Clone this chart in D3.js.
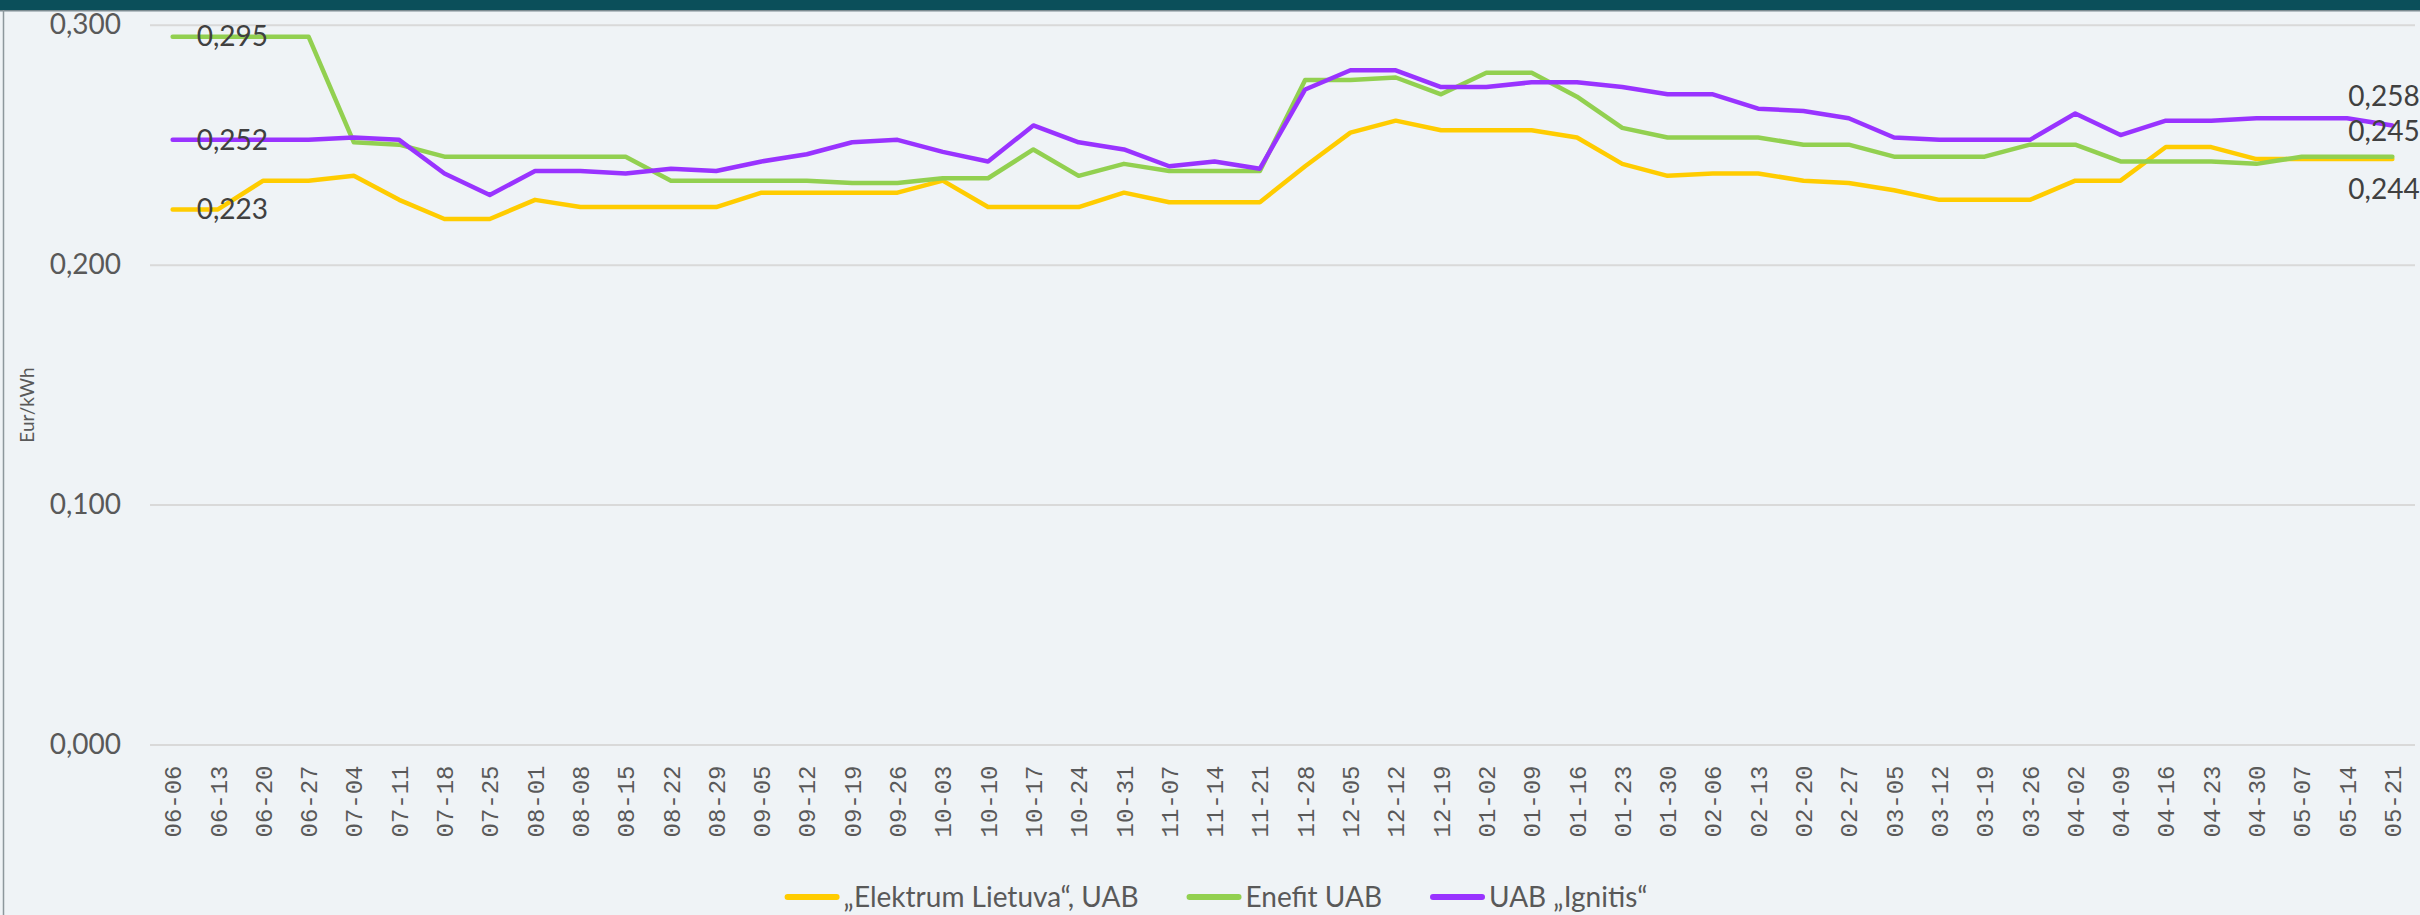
<!DOCTYPE html>
<html>
<head>
<meta charset="utf-8">
<script src="https://cdn.jsdelivr.net/npm/d3@7"></script>
<style>
    html, body { margin: 0; padding: 0; background: #eff3f6; overflow: hidden; }
    svg { display: block; }
</style>
</head>
<body>
<div id="chartContainer"></div>
<script>
var categories = ["06-06", "06-13", "06-20", "06-27", "07-04", "07-11", "07-18", "07-25",
    "08-01", "08-08", "08-15", "08-22", "08-29", "09-05", "09-12", "09-19", "09-26",
    "10-03", "10-10", "10-17", "10-24", "10-31", "11-07", "11-14", "11-21", "11-28",
    "12-05", "12-12", "12-19", "01-02", "01-09", "01-16", "01-23", "01-30", "02-06",
    "02-13", "02-20", "02-27", "03-05", "03-12", "03-19", "03-26", "04-02", "04-09",
    "04-16", "04-23", "04-30", "05-07", "05-14", "05-21"];

var elektrum = [0.223, 0.223, 0.235, 0.235, 0.237, 0.227, 0.219, 0.219, 0.227, 0.224,
    0.224, 0.224, 0.224, 0.230, 0.230, 0.230, 0.230, 0.235, 0.224, 0.224,
    0.224, 0.230, 0.226, 0.226, 0.226, 0.241, 0.255, 0.260, 0.256, 0.256,
    0.256, 0.253, 0.242, 0.237, 0.238, 0.238, 0.235, 0.234, 0.231, 0.227,
    0.227, 0.227, 0.235, 0.235, 0.249, 0.249, 0.244, 0.244, 0.244, 0.244];

var enefit = [0.295, 0.295, 0.295, 0.295, 0.251, 0.250, 0.245, 0.245, 0.245, 0.245,
    0.245, 0.235, 0.235, 0.235, 0.235, 0.234, 0.234, 0.236, 0.236, 0.248,
    0.237, 0.242, 0.239, 0.239, 0.239, 0.277, 0.277, 0.278, 0.271, 0.280,
    0.280, 0.270, 0.257, 0.253, 0.253, 0.253, 0.250, 0.250, 0.245, 0.245,
    0.245, 0.250, 0.250, 0.243, 0.243, 0.243, 0.242, 0.245, 0.245, 0.245];

var ignitis = [0.252, 0.252, 0.252, 0.252, 0.253, 0.252, 0.238, 0.229, 0.239, 0.239,
    0.238, 0.240, 0.239, 0.243, 0.246, 0.251, 0.252, 0.247, 0.243, 0.258,
    0.251, 0.248, 0.241, 0.243, 0.240, 0.273, 0.281, 0.281, 0.274, 0.274,
    0.276, 0.276, 0.274, 0.271, 0.271, 0.265, 0.264, 0.261, 0.253, 0.252,
    0.252, 0.252, 0.263, 0.254, 0.260, 0.260, 0.261, 0.261, 0.261, 0.258];

var seriesNames = ["\u201EElektrum Lietuva\u201C, UAB", "Enefit UAB", "UAB \u201EIgnitis\u201C"];
var strokes = ["#ffcc00", "#92d050", "#9933ff"];
var yTicks = [0, 0.1, 0.2, 0.3];
var yTitle = "Eur/kWh";

var width = 2420, height = 915;
var plot = { left: 150, right: 2415, top: 24.7, bottom: 744.5 };

var locale = d3.formatLocale({ decimal: ",", thousands: " ", grouping: [3], currency: ["", " €"] });
var fmt = locale.format(".3f");

var svg = d3.select("#chartContainer")
    .append("svg")
    .attr("width", width)
    .attr("height", height)
    .style("font-family", "Lato, 'Open Sans', sans-serif");

svg.append("rect")
    .attr("width", width)
    .attr("height", height)
    .attr("fill", "#eff3f6");

// header strip + left border
svg.append("rect")
    .attr("width", width)
    .attr("height", 10)
    .attr("fill", "#0b4f5a");
svg.append("line")
    .attr("x1", 0).attr("x2", width)
    .attr("y1", 10.75).attr("y2", 10.75)
    .style("stroke", "#7c8b91")
    .style("stroke-width", 1.5);
svg.append("line")
    .attr("x1", 3.5).attr("x2", 3.5)
    .attr("y1", 10).attr("y2", height)
    .style("stroke", "#8d979c")
    .style("stroke-width", 1.5);

var x = d3.scaleBand().domain(categories).range([plot.left, plot.right]);
var y = d3.scaleLinear().domain([0, 0.3]).range([plot.bottom, plot.top]);
var cx = function (c) { return x(c) + x.bandwidth() / 2; };

// Y axis with gridlines
var yAxis = svg.append("g")
    .attr("class", "y axis")
    .attr("transform", "translate(" + plot.left + ",0)")
    .call(d3.axisLeft(y)
        .tickValues(yTicks)
        .tickSize(-(plot.right - plot.left))
        .tickPadding(29)
        .tickFormat(fmt));
yAxis.select(".domain").remove();
yAxis.selectAll("line")
    .style("stroke", "#d9d9d9")
    .style("stroke-width", 2);
yAxis.selectAll("text")
    .style("font-size", "28px")
    .style("font-family", "Lato, sans-serif")
    .attr("fill", "#595959");

// X axis
var xAxis = svg.append("g")
    .attr("class", "x axis")
    .attr("transform", "translate(0," + plot.bottom + ")")
    .call(d3.axisBottom(x).tickSize(0));
xAxis.select(".domain").remove();
xAxis.selectAll("text")
    .attr("transform", "rotate(-90)")
    .attr("text-anchor", "end")
    .attr("x", -21)
    .attr("y", 0)
    .attr("dy", "0.36em")
    .style("font-size", "24px")
    .style("font-family", "'Liberation Mono', monospace")
    .attr("fill", "#595959");

// axis title
svg.append("text")
    .attr("transform", "translate(27,405) rotate(-90)")
    .attr("text-anchor", "middle")
    .attr("dy", "0.35em")
    .style("font-size", "19px")
    .attr("fill", "#595959")
    .text(yTitle);

var allSeries = [elektrum, enefit, ignitis];

var valueline = d3.line()
    .x(function (d, i) { return cx(categories[i]); })
    .y(function (d) { return y(d); });

for (var i = 0; i < allSeries.length; i++) {
    svg.append("path")
        .datum(allSeries[i])
        .attr("class", "line")
        .attr("fill", "none")
        .style("stroke", strokes[i])
        .style("stroke-width", 4.5)
        .style("stroke-linejoin", "round")
        .style("stroke-linecap", "round")
        .attr("d", valueline);
}

// data labels: first point to the right, last point above / below
var last = categories.length - 1;
var endOffsets = [30, -25, -29];
for (var i = 0; i < allSeries.length; i++) {
    var s = allSeries[i];
    svg.append("text")
        .attr("x", cx(categories[0]) + 24)
        .attr("y", y(s[0]))
        .attr("dy", "0.35em")
        .style("font-size", "28px")
        .attr("fill", "#404040")
        .text(fmt(s[0]));
    svg.append("text")
        .attr("x", cx(categories[last]) - 44)
        .attr("y", y(s[last]) + endOffsets[i])
        .attr("dy", "0.35em")
        .style("font-size", "28px")
        .attr("fill", "#404040")
        .text(fmt(s[last]));
}

// legend
var legend = svg.append("g").attr("class", "legend");
var lx = 0;
for (var i = 0; i < seriesNames.length; i++) {
    legend.append("line")
        .attr("x1", lx + 3).attr("x2", lx + 52)
        .attr("y1", 0).attr("y2", 0)
        .style("stroke", strokes[i])
        .style("stroke-width", 6)
        .style("stroke-linecap", "round");
    var t = legend.append("text")
        .attr("x", lx + 59)
        .attr("y", 0)
        .attr("dy", "0.35em")
        .style("font-size", "28px")
        .attr("fill", "#595959")
        .text(seriesNames[i]);
    lx += 59 + t.node().getComputedTextLength() + 48;
}
lx -= 48;
legend.attr("transform", "translate(" + (1216 - lx / 2) + ",897)");
</script>
</body>
</html>
